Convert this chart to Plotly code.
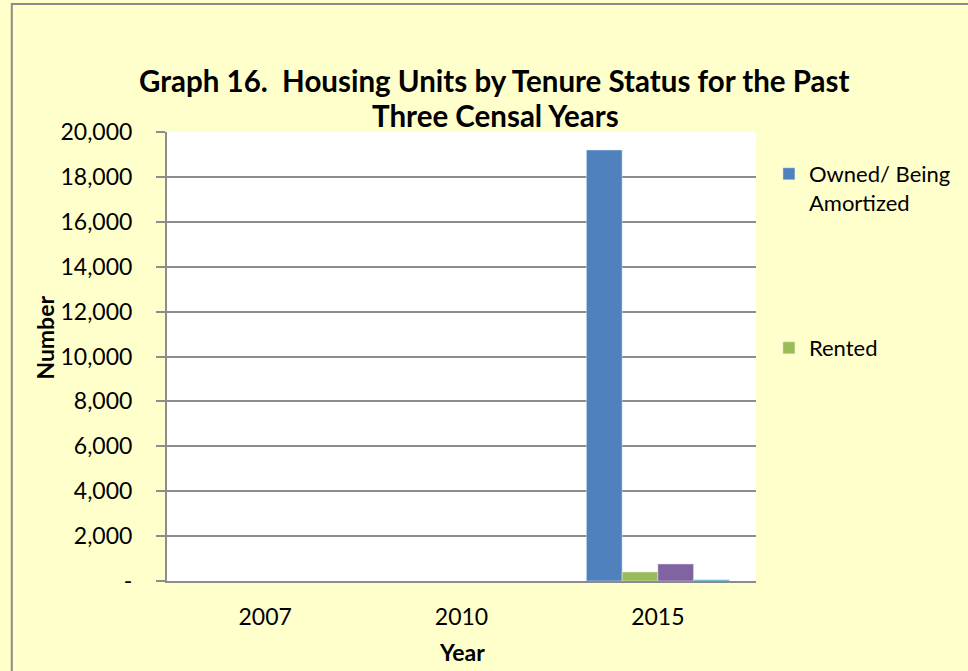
import plotly.graph_objects as go

years = ["2007", "2010", "2015"]
owned = [None, None, 19200]
rented = [None, None, 400]
rent_free = [None, None, 760]
other = [None, None, 60]

y_tickvals = [0, 2000, 4000, 6000, 8000, 10000, 12000, 14000, 16000, 18000, 20000]
y_ticktext = ["-", "2,000", "4,000", "6,000", "8,000", "10,000", "12,000", "14,000", "16,000", "18,000", "20,000"]

FONT = "Lato"
W, H = 968, 671
L, R, T, B = 167, 209, 132, 90
pw, ph = W - L - R, H - T - B

def px_x(x):
    return (x - L) / pw

def px_y(y):
    return (H - B - y) / ph

fig = go.Figure()
fig.add_bar(x=years, y=owned, name="Owned/ Being<br>Amortized", marker_color="#4F81BD", legend="legend")
fig.add_bar(x=years, y=rented, name="Rented", marker_color="#9BBB59", legend="legend2")
fig.add_bar(x=years, y=rent_free, name="Rent-free", marker_color="#8064A2", showlegend=False)
fig.add_bar(x=years, y=other, name="Other", marker_color="#4BACC6", showlegend=False)

title_font = dict(family=FONT, size=29.5, color="#000000")
axis_title_font = dict(family=FONT, size=23, color="#000000")

fig.update_layout(
    width=W, height=H,
    margin=dict(l=L, r=R, t=T, b=B),
    paper_bgcolor="#FFFFCC",
    plot_bgcolor="#FFFFFF",
    barmode="group",
    bargap=0.272,
    bargroupgap=0,
    font=dict(family=FONT, size=23, color="#000000"),
    legend=dict(
        x=px_x(772), y=px_y(153), xanchor="left", yanchor="top",
        bgcolor="rgba(0,0,0,0)", font=dict(family=FONT, size=22),
        valign="top", itemclick=False, itemdoubleclick=False,
    ),
    legend2=dict(
        x=px_x(772), y=px_y(327), xanchor="left", yanchor="top",
        bgcolor="rgba(0,0,0,0)", font=dict(family=FONT, size=22),
        valign="top", itemclick=False, itemdoubleclick=False,
    ),
    annotations=[
        dict(text="<b>Graph 16.  Housing Units by Tenure Status for the Past</b>",
             xref="paper", yref="paper", x=px_x(496), y=px_y(80),
             xanchor="center", yanchor="middle", showarrow=False, font=title_font),
        dict(text="<b>Three Censal Years</b>",
             xref="paper", yref="paper", x=px_x(497), y=px_y(116),
             xanchor="center", yanchor="middle", showarrow=False, font=title_font),
        dict(text="<b>Number</b>",
             xref="paper", yref="paper", x=px_x(44), y=px_y(338),
             xanchor="center", yanchor="middle", textangle=-90, showarrow=False,
             font=axis_title_font),
        dict(text="<b>Year</b>",
             xref="paper", yref="paper", x=px_x(463), y=px_y(652),
             xanchor="center", yanchor="middle", showarrow=False,
             font=axis_title_font),
    ],
    shapes=[
        dict(type="rect", xref="paper", yref="paper",
             x0=px_x(11), x1=px_x(1000), y0=px_y(700), y1=px_y(4),
             line=dict(color="#8C8C8C", width=2), fillcolor="rgba(0,0,0,0)", layer="below"),
    ],
)

fig.update_xaxes(
    showline=True, linecolor="#8C8C8C", linewidth=2,
    ticks="", tickfont=dict(family=FONT, size=23),
    ticklabelstandoff=14,
    showgrid=False,
)
fig.update_yaxes(
    range=[0, 20000],
    tickvals=y_tickvals, ticktext=y_ticktext,
    showline=True, linecolor="#8C8C8C", linewidth=2,
    ticks="outside", ticklen=9, tickcolor="#8C8C8C", tickwidth=2,
    ticklabelstandoff=19,
    showgrid=True, gridcolor="#8C8C8C", gridwidth=2,
    tickfont=dict(family=FONT, size=23),
    zeroline=False,
)

fig.write_html(
    "out.html",
    config={"displayModeBar": False},
    post_script="document.body.style.margin='0';document.body.style.overflow='hidden';",
)
